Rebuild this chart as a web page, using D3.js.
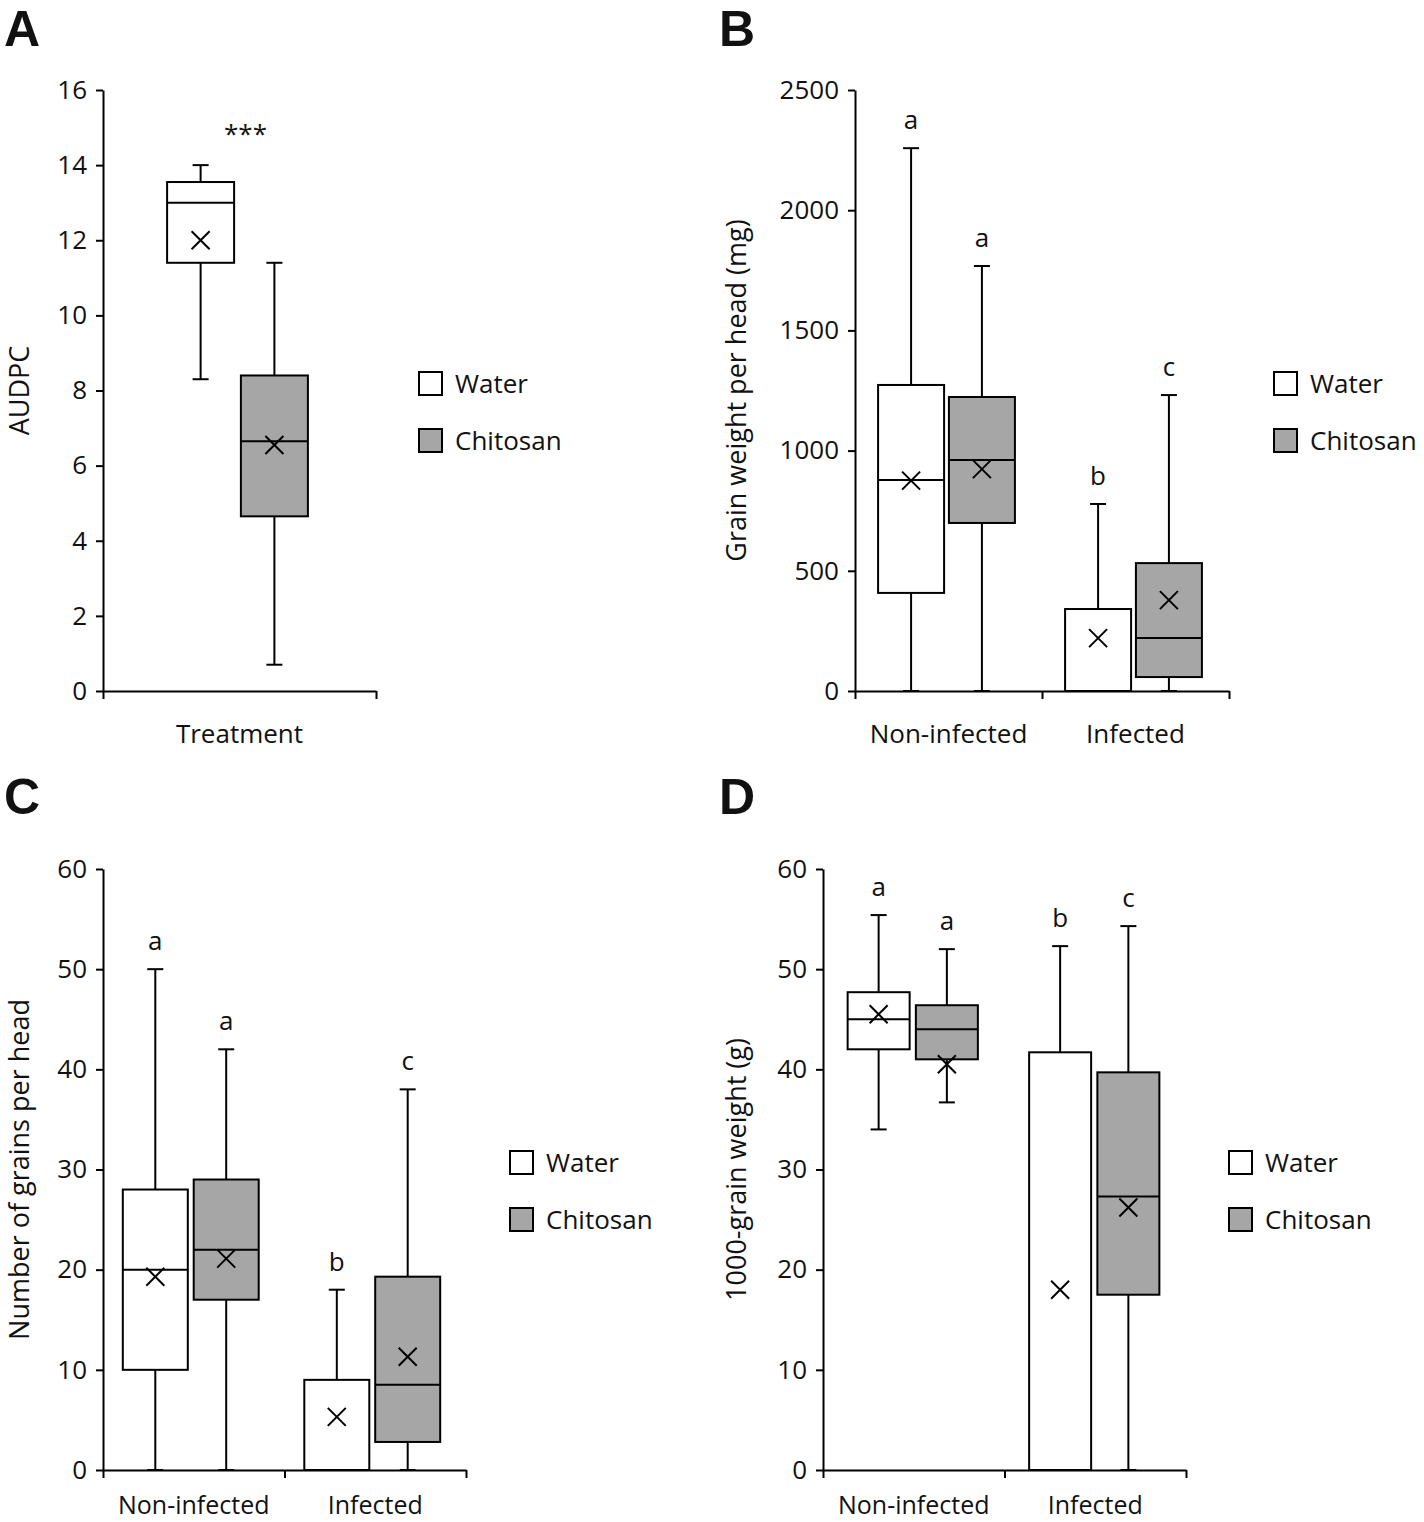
<!DOCTYPE html>
<html><head><meta charset="utf-8">
<script src="https://cdn.jsdelivr.net/npm/d3@7"></script>
<style>
body{margin:0;background:#fff}
svg{display:block}
text{font-family:"Open Sans",sans-serif;fill:#111}
</style>
</head><body>
<svg id="chart" width="1424" height="1522"></svg>
<script>
// ---------- shared ----------
const seriesNames = ["Water", "Chitosan"];
const seriesFill = ["#ffffff", "#a6a6a6"];

// ---------- Panel A : AUDPC ----------
const aGroups = ["Treatment"];
const aTicks = [0, 2, 4, 6, 8, 10, 12, 14, 16];
const aLow  = [8.3, 0.7];
const aQ1   = [11.4, 4.65];
const aMed  = [13.0, 6.65];
const aQ3   = [13.55, 8.4];
const aHigh = [14.0, 11.4];
const aMean = [12.0, 6.55];

// ---------- Panel B : grain weight per head (order: NI-Water, NI-Chitosan, Inf-Water, Inf-Chitosan) ----------
const grpNames = ["Non-infected", "Infected"];
const bTicks = [0, 500, 1000, 1500, 2000, 2500];
const bLow  = [0, 0, 0, 0];
const bQ1   = [408, 699, 0, 58];
const bMed  = [878, 961, 0, 220];
const bQ3   = [1273, 1223, 341, 532];
const bHigh = [2258, 1768, 778, 1231];
const bMean = [875, 923, 220, 378];
const bLetters = ["a", "a", "b", "c"];

// ---------- Panel C : number of grains per head ----------
const cTicks = [0, 10, 20, 30, 40, 50, 60];
const cLow  = [0, 0, 0, 0];
const cQ1   = [10, 17, 0, 2.8];
const cMed  = [20, 22, 0, 8.5];
const cQ3   = [28, 29, 9, 19.3];
const cHigh = [50, 42, 18, 38];
const cMean = [19.3, 21.1, 5.3, 11.3];
const cLetters = ["a", "a", "b", "c"];

// ---------- Panel D : 1000-grain weight ----------
const dTicks = [0, 10, 20, 30, 40, 50, 60];
const dLow  = [34, 36.7, 0, 0];
const dQ1   = [42, 41, 0, 17.5];
const dMed  = [45, 44, 0, 27.3];
const dQ3   = [47.7, 46.4, 41.7, 39.7];
const dHigh = [55.4, 52, 52.3, 54.3];
const dMean = [45.5, 40.5, 18, 26.2];
const dLetters = ["a", "a", "b", "c"];

const svg = d3.select("#chart");

function drawPanel(cfg) {
  const g = svg.append("g");
  const y = d3.scaleLinear().domain([0, cfg.ticks[cfg.ticks.length - 1]]).range([cfg.yBot, cfg.yTop]);
  const xg = d3.scaleBand().domain(cfg.groups).range([cfg.x0, cfg.x1]).padding(0);
  const xs = d3.scalePoint().domain(seriesNames).range([0, xg.bandwidth()]).padding(cfg.innerPad);

  // y axis
  const yAxis = d3.axisLeft(y).tickValues(cfg.ticks).tickFormat(d3.format("d"))
    .tickSize(7).tickSizeOuter(0).tickPadding(9);
  const ya = g.append("g").attr("transform", `translate(${cfg.x0},0)`).call(yAxis);
  ya.selectAll("path,line").attr("stroke", "#000").attr("stroke-width", 2);
  ya.selectAll("text").style("font-size", "26px").style("font-family", "Open Sans").attr("fill", "#111");

  // x axis (ticks at group boundaries)
  const xl = d3.scaleLinear().domain([cfg.x0, cfg.x1]).range([cfg.x0, cfg.x1]);
  const bounds = [cfg.x0].concat(cfg.groups.map(gn => xg(gn) + xg.bandwidth()));
  const xAxis = d3.axisBottom(xl).tickValues(bounds).tickSize(8).tickSizeOuter(0).tickFormat("");
  const xa = g.append("g").attr("transform", `translate(0,${cfg.yBot})`).call(xAxis);
  xa.selectAll("path,line").attr("stroke", "#000").attr("stroke-width", 2);

  // group labels
  g.selectAll("text.grp").data(cfg.groups).enter().append("text")
    .attr("class", "grp")
    .attr("x", d => xg(d) + xg.bandwidth() / 2 + (cfg.labelShift || 0))
    .attr("y", cfg.yBot + cfg.labelDY)
    .attr("text-anchor", "middle")
    .style("font-size", cfg.labelFS + "px")
    .text(d => d);

  // boxes
  const items = [];
  cfg.groups.forEach((gn, gi) => {
    seriesNames.forEach((sn, si) => {
      const k = gi * seriesNames.length + si;
      items.push({
        cx: xg(gn) + xs(sn) + cfg.shift, si,
        low: cfg.low[k], q1: cfg.q1[k], med: cfg.med[k], q3: cfg.q3[k], high: cfg.high[k], mean: cfg.mean[k],
        letter: cfg.letters ? cfg.letters[k] : null
      });
    });
  });
  const bw = cfg.boxW, cap = 8, mk = 9;
  items.forEach(d => {
    const b = g.append("g");
    b.append("line").attr("x1", d.cx).attr("x2", d.cx).attr("y1", y(d.high)).attr("y2", y(d.q3))
      .attr("stroke", "#000").attr("stroke-width", 2);
    b.append("line").attr("x1", d.cx).attr("x2", d.cx).attr("y1", y(d.q1)).attr("y2", y(d.low))
      .attr("stroke", "#000").attr("stroke-width", 2);
    b.append("line").attr("x1", d.cx - cap).attr("x2", d.cx + cap).attr("y1", y(d.high)).attr("y2", y(d.high))
      .attr("stroke", "#000").attr("stroke-width", 2);
    b.append("line").attr("x1", d.cx - cap).attr("x2", d.cx + cap).attr("y1", y(d.low)).attr("y2", y(d.low))
      .attr("stroke", "#000").attr("stroke-width", 2);
    b.append("rect").attr("x", d.cx - bw / 2).attr("width", bw)
      .attr("y", y(d.q3)).attr("height", y(d.q1) - y(d.q3))
      .attr("fill", seriesFill[d.si]).attr("stroke", "#000").attr("stroke-width", 2);
    b.append("line").attr("x1", d.cx - bw / 2).attr("x2", d.cx + bw / 2).attr("y1", y(d.med)).attr("y2", y(d.med))
      .attr("stroke", "#000").attr("stroke-width", 2);
    const my = y(d.mean);
    b.append("path").attr("d", `M${d.cx - mk},${my - mk}L${d.cx + mk},${my + mk}M${d.cx - mk},${my + mk}L${d.cx + mk},${my - mk}`)
      .attr("stroke", "#000").attr("stroke-width", 2).attr("fill", "none");
    if (d.letter) {
      b.append("text").attr("x", d.cx).attr("y", y(d.high) - 19).attr("text-anchor", "middle")
        .style("font-size", "26px").text(d.letter);
    }
  });

  // y label
  g.append("text").attr("transform", `translate(${cfg.yLabelX},${(cfg.yTop + cfg.yBot) / 2}) rotate(-90)`)
    .attr("text-anchor", "middle").attr("dominant-baseline", "central")
    .style("font-size", "27px").text(cfg.yLabel);

  // legend
  seriesNames.forEach((sn, i) => {
    const ly = cfg.legY + i * 57;
    g.append("rect").attr("x", cfg.legX).attr("y", ly).attr("width", 23).attr("height", 23)
      .attr("fill", seriesFill[i]).attr("stroke", "#000").attr("stroke-width", 2);
    g.append("text").attr("x", cfg.legX + 36).attr("y", ly + 21).style("font-size", "26px").text(sn);
  });

  // panel letter
  g.append("text").attr("x", cfg.pX).attr("y", cfg.pY)
    .style("font-family", "Liberation Sans").style("font-weight", "bold").style("font-size", "50px")
    .text(cfg.panel);
  return {g, y, xg};
}

const A = drawPanel({
  panel: "A", pX: 4, pY: 46,
  x0: 103, x1: 376, yTop: 90, yBot: 691, ticks: aTicks, groups: aGroups,
  innerPad: 1.35, shift: -2, boxW: 67, labelDY: 52, labelFS: 26,
  low: aLow, q1: aQ1, med: aMed, q3: aQ3, high: aHigh, mean: aMean, letters: null,
  yLabel: "AUDPC", yLabelX: 18, legX: 419, legY: 372
});
A.g.append("text").attr("x", A.xg("Treatment") + A.xg.bandwidth() / 2 + 6).attr("y", 143)
  .attr("text-anchor", "middle").style("font-size", "26px").text("***");

drawPanel({
  panel: "B", pX: 719, pY: 46,
  x0: 855, x1: 1229, yTop: 90, yBot: 691, ticks: bTicks, groups: grpNames,
  innerPad: 0.82, shift: -2, boxW: 66, labelDY: 52, labelFS: 26,
  low: bLow, q1: bQ1, med: bMed, q3: bQ3, high: bHigh, mean: bMean, letters: bLetters,
  yLabel: "Grain weight per head (mg)", yLabelX: 735, legX: 1274, legY: 372
});

drawPanel({
  panel: "C", pX: 4, pY: 814,
  x0: 103, x1: 466, yTop: 869, yBot: 1470, ticks: cTicks, groups: grpNames,
  innerPad: 0.78, shift: -3, boxW: 65, labelDY: 44, labelFS: 25,
  low: cLow, q1: cQ1, med: cMed, q3: cQ3, high: cHigh, mean: cMean, letters: cLetters,
  yLabel: "Number of grains per head", yLabelX: 18, legX: 510, legY: 1151
});

drawPanel({
  panel: "D", pX: 719, pY: 814,
  x0: 823, x1: 1186, yTop: 869, yBot: 1470, ticks: dTicks, groups: grpNames,
  innerPad: 0.83, shift: -1, boxW: 62, labelDY: 44, labelFS: 25,
  low: dLow, q1: dQ1, med: dMed, q3: dQ3, high: dHigh, mean: dMean, letters: dLetters,
  yLabel: "1000-grain weight (g)", yLabelX: 735, legX: 1229, legY: 1151
});
</script>
</body></html>
